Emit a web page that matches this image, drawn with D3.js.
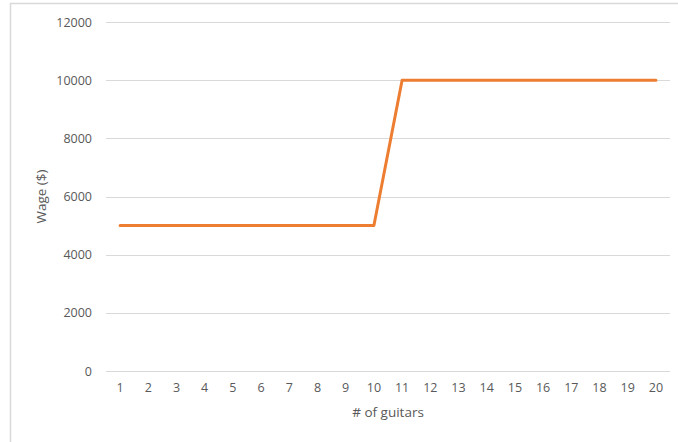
<!DOCTYPE html>
<html>
<head>
<meta charset="utf-8">
<script src="https://cdn.jsdelivr.net/npm/d3@7"></script>
<style>
  html, body { margin: 0; padding: 0; background: #fff; }
  svg { display: block; }
  text { font-family: "Open Sans", "Noto Sans", sans-serif; fill: #595959; }
</style>
</head>
<body>
<svg id="chart" width="678" height="442"></svg>
<script>
// Wage paid for each number of guitars produced
const guitars = d3.range(1, 21);
const wages = [5000, 5000, 5000, 5000, 5000, 5000, 5000, 5000, 5000, 5000,
               10000, 10000, 10000, 10000, 10000, 10000, 10000, 10000, 10000, 10000];
const yTicks = [0, 2000, 4000, 6000, 8000, 10000, 12000];
const xTitle = "# of guitars";
const yTitle = "Wage ($)";

const svg = d3.select("#chart");
const plot = { left: 106, right: 670, top: 22, bottom: 371 };

// chart area frame
svg.append("rect")
  .attr("x", 10.5).attr("y", 3.5)
  .attr("width", 700).attr("height", 500)
  .attr("fill", "none").attr("stroke", "#d9d9d9").attr("stroke-width", 1.5);

const x = d3.scaleBand().domain(guitars).range([plot.left, plot.right]);
const y = d3.scaleLinear().domain([0, 12000]).range([plot.bottom, plot.top]);

// horizontal gridlines
svg.append("g").selectAll("line").data(yTicks).join("line")
  .attr("x1", plot.left).attr("x2", plot.right)
  .attr("y1", d => Math.round(y(d)) + 0.5).attr("y2", d => Math.round(y(d)) + 0.5)
  .attr("stroke", "#d9d9d9").attr("stroke-width", 1);

// y tick labels
const yAxis = svg.append("g").attr("transform", `translate(${plot.left - 14},0)`)
  .call(d3.axisLeft(y).tickValues(yTicks).tickSize(0).tickPadding(0).tickFormat(d3.format("d")));
yAxis.select(".domain").remove();
yAxis.selectAll("text").attr("font-size", 12.5).attr("fill", "#595959")
  .style("font-family", '"Open Sans", "Noto Sans", sans-serif');

// x tick labels
const xAxis = svg.append("g").attr("transform", `translate(0,${plot.bottom})`)
  .call(d3.axisBottom(x).tickSize(0).tickPadding(12));
xAxis.select(".domain").remove();
xAxis.selectAll("text").attr("font-size", 12.5).attr("fill", "#595959")
  .style("font-family", '"Open Sans", "Noto Sans", sans-serif');

// axis titles
svg.append("text").attr("x", (plot.left + plot.right) / 2).attr("y", 417)
  .attr("text-anchor", "middle").attr("font-size", 13.5).text(xTitle);
svg.append("text")
  .attr("transform", `translate(46,${(plot.top + plot.bottom) / 2}) rotate(-90)`)
  .attr("text-anchor", "middle").attr("font-size", 13.5).text(yTitle);

// wage line
const line = d3.line()
  .x((d, i) => x(guitars[i]) + x.bandwidth() / 2)
  .y(d => y(d));
svg.append("path").datum(wages)
  .attr("d", line)
  .attr("fill", "none").attr("stroke", "#ED7D31")
  .attr("stroke-width", 3).attr("stroke-linejoin", "round").attr("stroke-linecap", "round");
</script>
</body>
</html>
